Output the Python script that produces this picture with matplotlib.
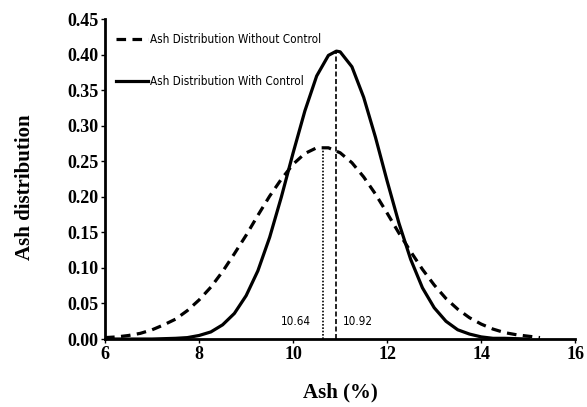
import matplotlib
matplotlib.use("Agg")
import matplotlib.pyplot as plt
from matplotlib import font_manager

# 读图估计的数据
ash_without = [6.0, 6.25, 6.5, 6.75, 7.0, 7.25, 7.5, 7.75, 8.0, 8.25, 8.5, 8.75, 9.0, 9.25,
               9.5, 9.75, 10.0, 10.25, 10.5, 10.75, 11.0, 11.25, 11.5, 11.75, 12.0, 12.25,
               12.5, 12.75, 13.0, 13.25, 13.5, 13.75, 14.0, 14.25, 14.5, 14.75, 15.0, 15.25]
dist_without = [0.002, 0.003, 0.005, 0.008, 0.013, 0.020, 0.028, 0.040, 0.055, 0.073, 0.095,
                0.120, 0.146, 0.174, 0.201, 0.225, 0.246, 0.261, 0.269, 0.269, 0.262, 0.248,
                0.228, 0.204, 0.177, 0.149, 0.123, 0.098, 0.076, 0.057, 0.042, 0.030, 0.021,
                0.014, 0.009, 0.006, 0.004, 0.002]

ash_with = [6.0, 6.5, 7.0, 7.5, 7.75, 8.0, 8.25, 8.5, 8.75, 9.0, 9.25, 9.5, 9.75, 10.0,
            10.25, 10.5, 10.75, 10.92, 11.0, 11.25, 11.5, 11.75, 12.0, 12.25, 12.5, 12.75,
            13.0, 13.25, 13.5, 13.75, 14.0, 14.25, 14.5, 15.0]
dist_with = [0.0, 0.0, 0.0, 0.001, 0.002, 0.005, 0.010, 0.020, 0.036, 0.061, 0.096, 0.143,
             0.200, 0.262, 0.321, 0.370, 0.399, 0.405, 0.404, 0.383, 0.340, 0.284, 0.222,
             0.163, 0.112, 0.072, 0.044, 0.025, 0.013, 0.007, 0.003, 0.001, 0.001, 0.0]

mean_without = 10.64
mean_with = 10.92
peak_without = 0.27
peak_with = 0.405

# 窄体字: 有 Liberation Sans Narrow 就用, 否则用 DejaVu Sans 的压缩体
names = {f.name for f in font_manager.fontManager.ttflist}
if 'Liberation Sans Narrow' in names:
    narrow = font_manager.FontProperties(family='Liberation Sans Narrow', size=8.4)
else:
    narrow = font_manager.FontProperties(family='DejaVu Sans', stretch='condensed', size=8.4)
serif = 'Liberation Serif'

fig = plt.figure(figsize=(5.87, 4.07), dpi=100)
ax = fig.add_axes([0.179, 0.167, 0.801, 0.786])

ax.plot(ash_without, dist_without, color='black', lw=2.3, linestyle=(0, (3, 2)),
        label='Ash Distribution Without Control')
ax.plot(ash_with, dist_with, color='black', lw=2.3, label='Ash Distribution With Control')

ax.vlines(mean_without, 0, peak_without, color='black', lw=1.2, linestyles=(0, (1, 1)))
ax.vlines(mean_with, 0, peak_with, color='black', lw=1.2, linestyles=(0, (3, 1.5)))
ax.text(10.05, 0.02, '10.64', fontproperties=narrow, ha='center')
ax.text(11.38, 0.02, '10.92', fontproperties=narrow, ha='center')

ax.set_xlim(6, 16)
ax.set_ylim(0, 0.45)
ax.set_xticks([6, 8, 10, 12, 14, 16])
ax.set_yticks([i * 0.05 for i in range(10)])
ax.set_yticklabels(['%.2f' % (i * 0.05) for i in range(10)])
for lab in ax.get_xticklabels() + ax.get_yticklabels():
    lab.set_family(serif)
    lab.set_fontweight('bold')
    lab.set_fontsize(13)
ax.tick_params(direction='out', length=3, width=1, pad=2)

for s in ['top', 'right']:
    ax.spines[s].set_visible(False)
for s in ['left', 'bottom']:
    ax.spines[s].set_linewidth(2)

ax.set_xlabel('Ash (%)', family=serif, fontweight='bold', fontsize=15, labelpad=14)
ax.set_ylabel('Ash distribution', family=serif, fontweight='bold', fontsize=15, labelpad=20)
ax.yaxis.set_label_coords(-0.15, 0.475)

ax.legend(loc='upper left', bbox_to_anchor=(0.0, 0.988), frameon=False,
          prop=narrow, handlelength=2.8, handletextpad=0.15, labelspacing=2.45)

plt.savefig('out.png', dpi=100)
